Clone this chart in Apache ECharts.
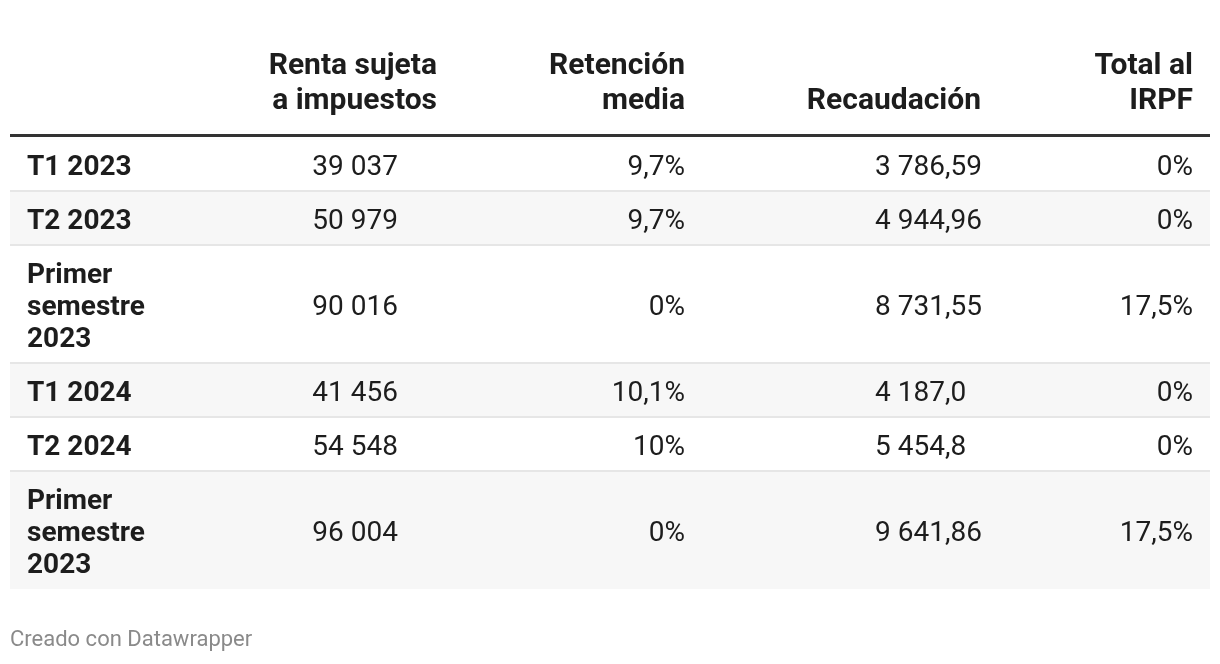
<!DOCTYPE html>
<html>
<head>
<meta charset="utf-8">
<script src="https://cdn.jsdelivr.net/npm/echarts@6/dist/echarts.min.js"></script>
<style>
    html, body { margin: 0; padding: 0; background: #ffffff; }
    #chart { width: 1220px; height: 664px; }
</style>
</head>
<body>
<div id="chart"></div>
<script>
    // datos de la tabla
    var headers = ['', 'Renta sujeta\na impuestos', 'Retención\nmedia', 'Recaudación', 'Total al\nIRPF'];
    var periodos = ['T1 2023', 'T2 2023', 'Primer\nsemestre\n2023', 'T1 2024', 'T2 2024', 'Primer\nsemestre\n2023'];
    var renta = [39037, 50979, 90016, 41456, 54548, 96004];
    var retencion = [9.7, 9.7, 0, 10.1, 10, 0];
    var recaudacion = [3786.59, 4944.96, 8731.55, 4187.0, 5454.8, 9641.86];
    var recaudacionDecimales = [2, 2, 2, 1, 1, 2];
    var totalIrpf = [0, 0, 17.5, 0, 0, 17.5];

    var FONT = 'Roboto, "Noto Sans", sans-serif';
    var TEXT = '#1d1d1d';
    var left = 10, right = 1210;
    var rowTop = 137, rowH = 54, lineH = 32;

    // miles con espacio, decimales con coma
    function miles(n) {
        return String(n).replace(/\B(?=(\d{3})+(?!\d))/g, ' ');
    }
    function pct(v) {
        return String(v).replace('.', ',') + '%';
    }

    var chart = echarts.init(document.getElementById('chart'));
    var els = [];

    // cabecera
    var headX = [0, 437, 685, 981, 1193];
    headers.forEach(function (h, i) {
        if (!h) return;
        var lines = h.split('\n');
        lines.forEach(function (l, k) {
            var y = lines.length === 2 ? 66.5 + k * 35 : 101.5;
            els.push({
                type: 'text', x: headX[i], y: y,
                style: { text: l, font: 'bold 30px ' + FONT, fill: TEXT, align: 'right', verticalAlign: 'middle' }
            });
        });
    });
    els.push({ type: 'rect', shape: { x: left, y: 134, width: right - left, height: 3 }, style: { fill: '#333333' } });

    // filas
    var y0 = rowTop;
    periodos.forEach(function (p, i) {
        var lines = p.split('\n');
        var h = rowH + (lines.length - 1) * lineH;
        var cy = y0 + h / 2 + 3.5;
        if (i % 2 === 1) {
            els.push({ type: 'rect', z: -1, shape: { x: left, y: y0, width: right - left, height: h }, style: { fill: '#f7f7f7' } });
        }
        if (i > 0) {
            els.push({ type: 'rect', shape: { x: left, y: y0 - 1, width: right - left, height: 2 }, style: { fill: '#e6e6e6' } });
        }
        lines.forEach(function (l, k) {
            els.push({
                type: 'text', x: 27, y: cy + (k - (lines.length - 1) / 2) * lineH,
                style: { text: l, font: 'bold 28px ' + FONT, fill: TEXT, align: 'left', verticalAlign: 'middle' }
            });
        });
        var regular = '28px ' + FONT;
        els.push({ type: 'text', x: 398, y: cy, style: { text: miles(renta[i]), font: regular, fill: TEXT, align: 'right', verticalAlign: 'middle' } });
        els.push({ type: 'text', x: 685, y: cy, style: { text: pct(retencion[i]), font: regular, fill: TEXT, align: 'right', verticalAlign: 'middle' } });
        // alineación por la coma decimal
        var parts = recaudacion[i].toFixed(recaudacionDecimales[i]).split('.');
        els.push({ type: 'text', x: 945, y: cy, style: { text: miles(parts[0]), font: regular, fill: TEXT, align: 'right', verticalAlign: 'middle' } });
        els.push({ type: 'text', x: 945, y: cy, style: { text: ',' + parts[1], font: regular, fill: TEXT, align: 'left', verticalAlign: 'middle' } });
        els.push({ type: 'text', x: 1193, y: cy, style: { text: pct(totalIrpf[i]), font: regular, fill: TEXT, align: 'right', verticalAlign: 'middle' } });
        y0 += h;
    });

    // pie
    els.push({ type: 'text', x: 10, y: 640.5, style: { text: 'Creado con Datawrapper', font: '22px ' + FONT, fill: '#8a8a8a', align: 'left', verticalAlign: 'middle' } });

    chart.setOption({
        animation: false,
        graphic: { elements: els }
    });
</script>
</body>
</html>
